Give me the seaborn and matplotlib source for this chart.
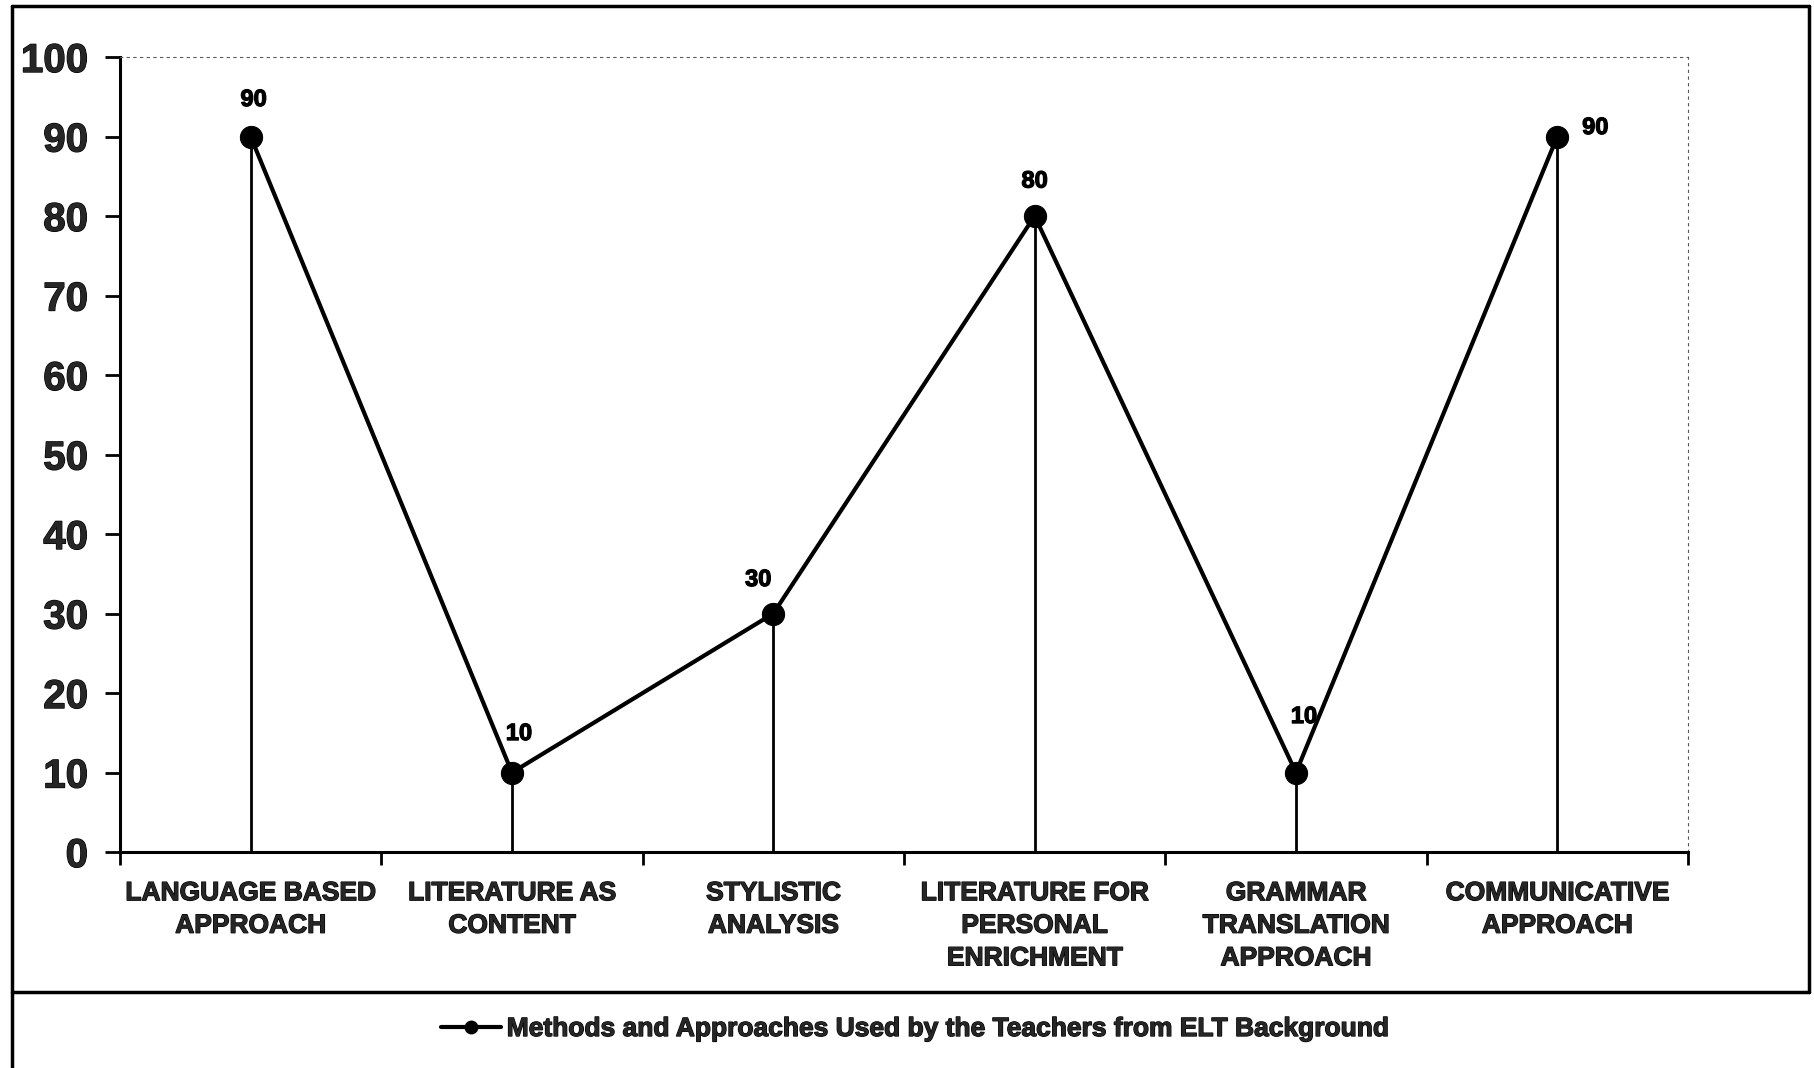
import matplotlib
matplotlib.use("Agg")
import matplotlib.pyplot as plt
from matplotlib.lines import Line2D
import matplotlib.patheffects as pe
import seaborn as sns
import pandas as pd
import numpy as np

categories = ["LANGUAGE BASED\nAPPROACH", "LITERATURE AS\nCONTENT", "STYLISTIC\nANALYSIS",
              "LITERATURE FOR\nPERSONAL\nENRICHMENT", "GRAMMAR\nTRANSLATION\nAPPROACH",
              "COMMUNICATIVE\nAPPROACH"]
values = [90, 10, 30, 80, 10, 90]
series_name = "Methods and Approaches Used by the Teachers from ELT Background"
y_ticks = [0, 10, 20, 30, 40, 50, 60, 70, 80, 90, 100]
# label offsets in pixels (dx, dy)
label_offsets = [(3, 37), (7, 39), (-15, 34), (0, 35), (8, 56), (38, 9)]

sns.set_theme(style="white")
plt.rcParams['font.family'] = ['Liberation Sans', 'DejaVu Sans']
plt.rcParams['font.weight'] = 'bold'

bold_fx = [pe.withStroke(linewidth=0.9, foreground="black")]

fig = plt.figure(figsize=(18.15, 10.68), dpi=100)
ax = fig.add_axes([0.0661, 0.2022, 0.930 - 0.0661, 0.9466 - 0.2022])

df = pd.DataFrame({"pos": np.arange(len(categories)), "value": values, "series": series_name})

ax.vlines(df["pos"], 0, df["value"], color="black", linewidth=2.0, zorder=2)
sns.lineplot(data=df, x="pos", y="value", hue="series", palette=["black"], marker="o",
             markersize=16, linewidth=3.0, markeredgecolor="black", ax=ax, zorder=3)

for (x, v, off) in zip(df["pos"], values, label_offsets):
    ax.annotate(str(v), (x, v), xytext=off, textcoords="offset pixels",
                ha="center", va="center", fontsize=17, fontweight="bold", color="black",
                path_effects=bold_fx)

ax.set_xlim(-0.5, len(categories) - 0.5)
ax.set_ylim(0, 100)
ax.set_yticks(y_ticks)
ax.set_yticklabels([str(t) for t in y_ticks], fontsize=29, fontweight="bold")
ax.set_xticks(np.arange(len(categories)))
ax.set_xticklabels(categories, fontsize=19, fontweight="bold", linespacing=1.45, va="top")
ax.set_xticks(np.arange(len(categories) + 1) - 0.5, minor=True)
ax.tick_params(axis="x", which="major", length=0, pad=21)
ax.tick_params(axis="x", which="minor", length=9, width=2, color="black", direction="out", bottom=True)
ax.tick_params(axis="y", which="major", length=11, width=2, color="black", direction="out", left=True, pad=12)
ax.set_xlabel("")
ax.set_ylabel("")
for t in ax.get_xticklabels() + ax.get_yticklabels():
    t.set_path_effects(bold_fx)

for s in ["left", "bottom"]:
    ax.spines[s].set_color("black")
    ax.spines[s].set_linewidth(2.2)
for s in ["top", "right"]:
    ax.spines[s].set_color("0.35")
    ax.spines[s].set_linewidth(0.8)
    ax.spines[s].set_linestyle((0, (2, 4)))

ax.get_legend().remove()
handles = [Line2D([], [], color="black", linewidth=3.0, marker="o", markersize=9)]
leg = fig.legend(handles, [series_name], loc="center", bbox_to_anchor=(0.504, 0.0365), frameon=False,
                 prop={"size": 19, "weight": "bold"}, handlelength=2.3, handletextpad=0.2)
for t in leg.get_texts():
    t.set_path_effects(bold_fx)

# outer frame
lw = 2.5
fig.add_artist(Line2D([0.0066, 0.9967], [0.9944, 0.9944], color="black", linewidth=lw))
fig.add_artist(Line2D([0.0066, 0.0066], [0.0, 0.9944], color="black", linewidth=lw))
fig.add_artist(Line2D([0.9967, 0.9967], [0.0712, 0.9944], color="black", linewidth=lw))
fig.add_artist(Line2D([0.0066, 0.9967], [0.0712, 0.0712], color="black", linewidth=lw))

fig.savefig("out.png", dpi=100)
